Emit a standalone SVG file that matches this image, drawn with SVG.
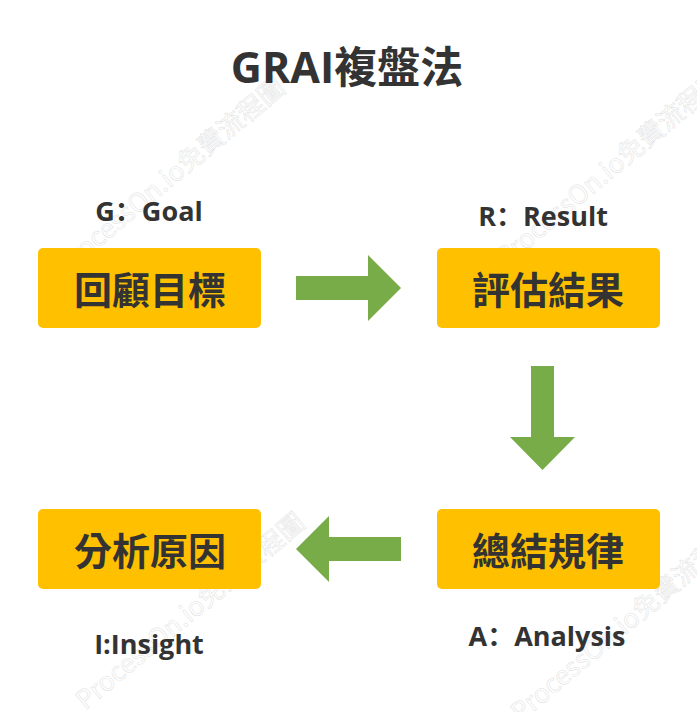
<svg xmlns="http://www.w3.org/2000/svg" width="697" height="712" viewBox="0 0 697 712">
  <style>
    .box { fill: #FFC000; }
    .boxtext { font-family: "Open Sans", "Noto Sans CJK TC", sans-serif; font-weight: 700; font-size: 38px; fill: #333333; text-anchor: middle; }
    .label { font-family: "Open Sans", "Noto Sans CJK SC", sans-serif; font-weight: 700; font-size: 27px; fill: #333333; text-anchor: middle; }
    .title { font-family: "Open Sans", "Noto Sans CJK TC", sans-serif; font-weight: 700; font-size: 43px; fill: #333333; text-anchor: middle; }
    .arrow { fill: #77AC48; }
    .wm { font-family: "Noto Sans CJK TC", sans-serif; font-size: 26px; fill: none; stroke: #e0e0e0; stroke-width: 0.5; text-anchor: middle; }
  </style>
  <rect width="697" height="712" fill="#ffffff"/>
  <g id="watermarks">
    <text class="wm" x="176" y="183" transform="rotate(-40 176 183)">ProcessOn.io免費流程圖</text>
    <text class="wm" x="616" y="175" transform="rotate(-40 616 175)">ProcessOn.io免費流程圖</text>
    <text class="wm" x="196" y="618" transform="rotate(-40 196 618)">ProcessOn.io免費流程圖</text>
    <text class="wm" x="631" y="630" transform="rotate(-40 631 630)">ProcessOn.io免費流程圖</text>
  </g>
  <g id="title">
    <text class="title" x="347" y="83">GRAI複盤法</text>
  </g>
  <g id="connectors">
    <polygon class="arrow" points="296,276 368,276 368,255 401,288 368,321 368,300 296,300"/>
    <polygon class="arrow" points="531,366 554,366 554,437 575,437 542.5,470 510,437 531,437"/>
    <polygon class="arrow" points="401,537 329,537 329,516 296,549 329,582 329,561 401,561"/>
  </g>
  <g id="node-goal">
    <text class="label" x="149" y="221">G：Goal</text>
    <rect class="box" x="38" y="248" width="223" height="80" rx="5"/>
    <text class="boxtext" x="150" y="304">回顧目標</text>
  </g>
  <g id="node-result">
    <text class="label" x="543" y="226">R：Result</text>
    <rect class="box" x="437" y="248" width="223" height="80" rx="5"/>
    <text class="boxtext" x="548" y="304">評估結果</text>
  </g>
  <g id="node-analysis">
    <rect class="box" x="437" y="509" width="223" height="80" rx="5"/>
    <text class="boxtext" x="548" y="565">總結規律</text>
    <text class="label" x="547" y="646">A：Analysis</text>
  </g>
  <g id="node-insight">
    <rect class="box" x="38" y="509" width="223" height="80" rx="5"/>
    <text class="boxtext" x="150" y="565">分析原因</text>
    <text class="label" x="149" y="654">I:Insight</text>
  </g>
</svg>
